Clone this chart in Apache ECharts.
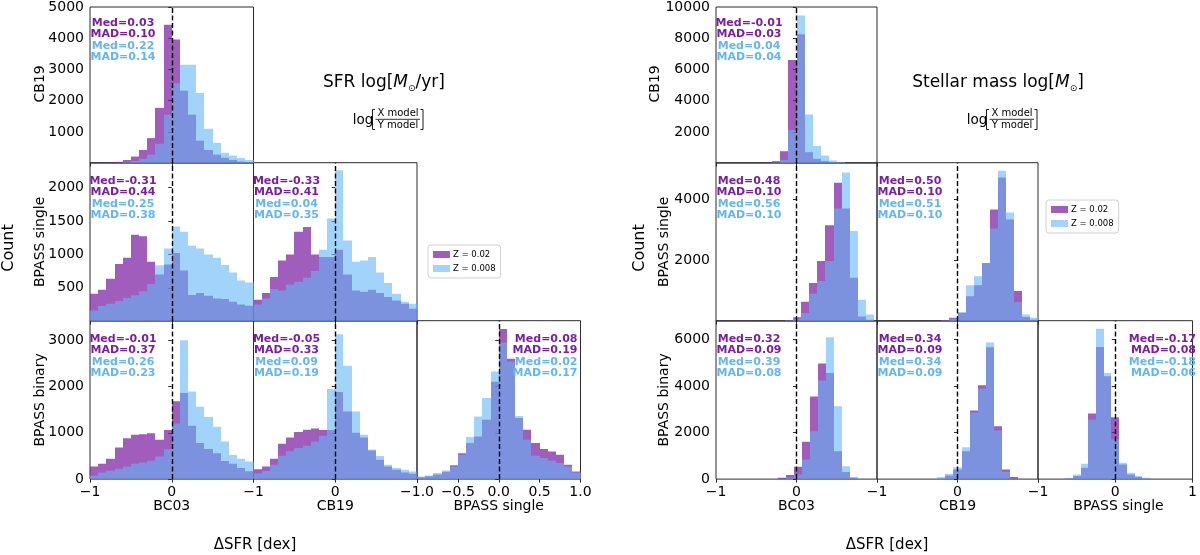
<!DOCTYPE html>
<html>
<head>
<meta charset="utf-8">
<script src="https://cdn.jsdelivr.net/npm/echarts@6/dist/echarts.min.js"></script>
<style>
html, body { margin: 0; padding: 0; background: #fff; }
#myChart { width: 1200px; height: 555px; }
</style>
</head>
<body>
<div id="myChart"></div>
<script>
// histogram bins are 0.1 dex wide, each panel has its own first edge
var binWidth = 0.1;

// ---- SFR log[Msun/yr] (left figure) ----
var sfr_cb19_bc03_start = -1;
var sfr_cb19_bc03_z02  = [5, 10, 20, 40, 100, 210, 420, 800, 1770, 4430, 3960, 2320, 1550, 720, 420, 270, 170, 100, 50, 25];
var sfr_cb19_bc03_z008 = [0, 0, 5, 10, 30, 64, 138, 276, 620, 1550, 2560, 3150, 3150, 2250, 1100, 650, 330, 240, 160, 100];

var sfr_single_bc03_start = -1;
var sfr_single_bc03_z02  = [410, 470, 635, 855, 950, 1295, 1272, 890, 700, 850, 1020, 760, 390, 420, 380, 340, 330, 290, 250, 230];
var sfr_single_bc03_z008 = [160, 226, 261, 301, 346, 386, 446, 557, 838, 1088, 1420, 1340, 1130, 1090, 1000, 950, 840, 730, 610, 580];

var sfr_single_cb19_start = -1;
var sfr_single_cb19_z02  = [320, 420, 660, 910, 1000, 1340, 1410, 1000, 960, 960, 1070, 700, 460, 440, 470, 420, 360, 310, 260, 185];
var sfr_single_cb19_z008 = [250, 340, 480, 460, 550, 590, 650, 750, 1070, 1540, 2260, 1210, 890, 910, 960, 730, 570, 410, 290, 260];

var sfr_binary_bc03_start = -1;
var sfr_binary_bc03_z02  = [273, 330, 438, 682, 883, 955, 970, 990, 847, 1062, 1680, 1860, 1150, 780, 650, 560, 390, 330, 240, 170];
var sfr_binary_bc03_z008 = [80, 144, 180, 222, 273, 330, 359, 395, 489, 646, 1200, 3000, 1890, 1560, 1340, 1130, 810, 520, 440, 380];

var sfr_binary_cb19_start = -1;
var sfr_binary_cb19_z02  = [210, 272, 440, 762, 900, 1015, 1066, 1090, 1060, 1060, 1880, 1460, 1000, 900, 620, 420, 272, 200, 145, 115];
var sfr_binary_cb19_z008 = [120, 175, 310, 505, 600, 670, 720, 814, 936, 1945, 3130, 2450, 1460, 960, 640, 500, 310, 238, 202, 166];

var sfr_binary_single_start = -1;
var sfr_binary_single_z02  = [40, 60, 100, 160, 300, 560, 780, 920, 1280, 2100, 3240, 2600, 1320, 1065, 778, 648, 598, 527, 310, 166];
var sfr_binary_single_z008 = [58, 79, 130, 187, 274, 525, 907, 1353, 1749, 2325, 2950, 2540, 1360, 849, 504, 453, 403, 346, 273, 144];

// ---- Stellar mass log[Msun] (right figure) ----
var mass_cb19_bc03_start = -0.4;
var mass_cb19_bc03_z02  = [40, 127, 760, 6600, 8250, 700, 275, 127, 40, 10];
var mass_cb19_bc03_z008 = [10, 40, 200, 2130, 9450, 3120, 1100, 485, 170, 60];

var mass_single_bc03_start = -0.14;
var mass_single_bc03_z02  = [40, 130, 636, 1250, 1975, 3148, 4540, 3700, 1426, 154, 44];
var mass_single_bc03_z008 = [20, 75, 263, 900, 1316, 1975, 3697, 4880, 2960, 702, 220];

var mass_single_cb19_start = -0.2;
var mass_single_cb19_z02  = [40, 110, 263, 812, 1174, 1909, 3664, 4717, 3335, 987, 131, 44];
var mass_single_cb19_z008 = [20, 80, 300, 1174, 1470, 1909, 3039, 4936, 3565, 625, 219, 110];

var mass_binary_bc03_start = -0.23;
var mass_binary_bc03_z02  = [57, 171, 529, 1600, 3544, 4959, 4559, 1200, 300, 57];
var mass_binary_bc03_z008 = [20, 57, 200, 843, 2058, 4230, 6088, 3130, 557, 86];

var mass_binary_cb19_start = -0.25;
var mass_binary_cb19_z02  = [20, 157, 414, 1200, 2944, 4030, 5659, 2272, 414, 86];
var mass_binary_cb19_z008 = [86, 229, 514, 1372, 2858, 3887, 5859, 2086, 314, 29];

var mass_binary_single_start = -0.65;
var mass_binary_single_z02  = [30, 129, 486, 2815, 5673, 4416, 2658, 629, 200, 86, 29];
var mass_binary_single_z008 = [40, 200, 657, 2558, 6459, 4559, 1700, 700, 272, 129, 57];

// Med / MAD for Z=0.02 then Z=0.008
var stats_sfr = [
	['0.03', '0.10', '0.22', '0.14'],
	['-0.31', '0.44', '0.25', '0.38'],
	['-0.33', '0.41', '0.04', '0.35'],
	['-0.01', '0.37', '0.26', '0.23'],
	['-0.05', '0.33', '0.09', '0.19'],
	['0.08', '0.19', '0.02', '0.17']
];
var stats_mass = [
	['-0.01', '0.03', '0.04', '0.04'],
	['0.48', '0.10', '0.56', '0.10'],
	['0.50', '0.10', '0.51', '0.10'],
	['0.32', '0.09', '0.39', '0.08'],
	['0.34', '0.09', '0.34', '0.09'],
	['-0.17', '0.08', '-0.18', '0.06']
];

var rowNames = ['CB19', 'BPASS single', 'BPASS binary'];
var colNames = ['BC03', 'CB19', 'BPASS single'];
var seriesNames = ['Z = 0.02', 'Z = 0.008'];

// y ticks per row
var sfrYMax = [5000, 2375, 3420];
var sfrYTicks = [[1000, 2000, 3000, 4000, 5000], [500, 1000, 1500, 2000], [0, 1000, 2000, 3000]];
var massYMax = [10000, 5200, 6800];
var massYTicks = [[2000, 4000, 6000, 8000, 10000], [2000, 4000], [0, 2000, 4000, 6000]];
var xTicks = [-1, 0, 1];
var xTicksFine = [-1, -0.5, 0, 0.5, 1];

var FONT = 'DejaVu Sans';
var C02 = 'rgba(123,31,162,0.72)';
var C008 = 'rgba(100,181,246,0.6)';
var T02 = '#7b1fa2';
var T008 = '#64b5f6';

// panel list (row, col) for both figures
var panels = [
	{fig: 0, row: 0, col: 0, start: sfr_cb19_bc03_start, z02: sfr_cb19_bc03_z02, z008: sfr_cb19_bc03_z008, stats: stats_sfr[0]},
	{fig: 0, row: 1, col: 0, start: sfr_single_bc03_start, z02: sfr_single_bc03_z02, z008: sfr_single_bc03_z008, stats: stats_sfr[1]},
	{fig: 0, row: 1, col: 1, start: sfr_single_cb19_start, z02: sfr_single_cb19_z02, z008: sfr_single_cb19_z008, stats: stats_sfr[2]},
	{fig: 0, row: 2, col: 0, start: sfr_binary_bc03_start, z02: sfr_binary_bc03_z02, z008: sfr_binary_bc03_z008, stats: stats_sfr[3]},
	{fig: 0, row: 2, col: 1, start: sfr_binary_cb19_start, z02: sfr_binary_cb19_z02, z008: sfr_binary_cb19_z008, stats: stats_sfr[4]},
	{fig: 0, row: 2, col: 2, start: sfr_binary_single_start, z02: sfr_binary_single_z02, z008: sfr_binary_single_z008, stats: stats_sfr[5]},
	{fig: 1, row: 0, col: 0, start: mass_cb19_bc03_start, z02: mass_cb19_bc03_z02, z008: mass_cb19_bc03_z008, stats: stats_mass[0]},
	{fig: 1, row: 1, col: 0, start: mass_single_bc03_start, z02: mass_single_bc03_z02, z008: mass_single_bc03_z008, stats: stats_mass[1]},
	{fig: 1, row: 1, col: 1, start: mass_single_cb19_start, z02: mass_single_cb19_z02, z008: mass_single_cb19_z008, stats: stats_mass[2]},
	{fig: 1, row: 2, col: 0, start: mass_binary_bc03_start, z02: mass_binary_bc03_z02, z008: mass_binary_bc03_z008, stats: stats_mass[3]},
	{fig: 1, row: 2, col: 1, start: mass_binary_cb19_start, z02: mass_binary_cb19_z02, z008: mass_binary_cb19_z008, stats: stats_mass[4]},
	{fig: 1, row: 2, col: 2, start: mass_binary_single_start, z02: mass_binary_single_z02, z008: mass_binary_single_z008, stats: stats_mass[5]}
];

// layout (px)
var figLeft = [90, 716];
var colW = [163.5, 161];
var rowTop = [4.7, 162.7, 320.7];
var rowH = 158.4;

function toBins(start, counts) {
	return counts.map(function (c, k) {
		return [start + k * binWidth, start + (k + 1) * binWidth, c];
	});
}

function renderBar(params, api) {
	var a = api.coord([api.value(0), api.value(2)]);
	var b = api.coord([api.value(1), 0]);
	var x0 = Math.round(a[0]), x1 = Math.round(b[0]);
	return {
		type: 'rect',
		shape: {x: x0, y: a[1], width: x1 - x0, height: b[1] - a[1]},
		style: {fill: api.visual('color')}
	};
}

function minus(s) { return String(s).replace('-', '\u2212'); }

function txt(x, y, text, extra) {
	var style = {text: text, x: 0, y: 0, fill: '#000', fontSize: 13, fontFamily: FONT, align: 'center', verticalAlign: 'middle'};
	for (var k in extra) { style[k] = extra[k]; }
	return {type: 'text', x: x, y: y, z: 100, silent: true, style: style};
}

var grids = [], xAxes = [], yAxes = [], series = [], graphics = [];

panels.forEach(function (p, i) {
	var left = figLeft[p.fig] + p.col * colW[p.fig];
	var top = rowTop[p.row];
	var w = colW[p.fig];
	var bottomRow = p.row === 2;
	var lastCol = bottomRow && p.col === 2;
	var yMax = p.fig === 0 ? sfrYMax[p.row] : massYMax[p.row];
	var yTicks = p.fig === 0 ? sfrYTicks[p.row] : massYTicks[p.row];
	var xt = (lastCol && p.fig === 0) ? xTicksFine : xTicks;
	var xl = lastCol ? xt : xt.slice(0, xt.length - 1);

	grids.push({left: left, top: top, width: w, height: rowH, show: true,
		borderColor: '#2b2b2b', borderWidth: 1, backgroundColor: 'transparent'});

	xAxes.push({
		gridIndex: i, type: 'value', min: -1, max: 1,
		axisLine: {show: false},
		splitLine: {show: false},
		axisTick: {show: true, length: 3.5, customValues: xt, lineStyle: {color: '#2b2b2b'}},
		axisLabel: {
			show: bottomRow, customValues: xl, margin: 6, fontSize: 14, fontFamily: FONT, color: '#000',
			formatter: function (v) {
				return minus((lastCol && p.fig === 0) ? v.toFixed(1) : String(v));
			}
		}
	});
	yAxes.push({
		gridIndex: i, type: 'value', min: 0, max: yMax,
		axisLine: {show: false},
		splitLine: {show: false},
		axisTick: {show: true, length: 3.5, customValues: yTicks, lineStyle: {color: '#2b2b2b'}},
		axisLabel: {
			show: p.col === 0, customValues: yTicks, margin: 6, fontSize: 14, fontFamily: FONT, color: '#000',
			formatter: function (v) { return String(v); }
		}
	});

	series.push({
		type: 'custom', name: seriesNames[0], xAxisIndex: i, yAxisIndex: i, clip: true, silent: true,
		itemStyle: {color: C02}, renderItem: renderBar, data: toBins(p.start, p.z02)
	});
	series.push({
		type: 'custom', name: seriesNames[1], xAxisIndex: i, yAxisIndex: i, clip: true, silent: true,
		itemStyle: {color: C008}, renderItem: renderBar, data: toBins(p.start, p.z008),
		markLine: {
			silent: true, symbol: ['none', 'none'], label: {show: false}, z: 10,
			lineStyle: {color: '#000', type: [5, 2.5], width: 1.4},
			data: [{xAxis: 0}]
		}
	});

	// Med / MAD annotations
	var lines = ['Med=' + p.stats[0], 'MAD=' + p.stats[1], 'Med=' + p.stats[2], 'MAD=' + p.stats[3]];
	var cols = [T02, T02, T008, T008];
	var tx = lastCol ? left + w - 3 : left + 33;
	lines.forEach(function (t, j) {
		graphics.push(txt(tx, top + 18 + j * 11.6, t, {
			fill: cols[j], fontSize: 11, fontWeight: 'bold', align: lastCol ? 'right' : 'center'
		}));
	});

	// column names under bottom row
	if (bottomRow) {
		graphics.push(txt(left + w / 2, 506, colNames[p.col], {fontSize: 14}));
	}
	// row names on left column
	if (p.col === 0) {
		var rx = p.fig === 0 ? 40 : (p.row === 0 ? 655 : 664);
		graphics.push(txt(rx, top + rowH / 2, rowNames[p.row], {fontSize: 14}));
		graphics[graphics.length - 1].rotation = Math.PI / 2;
	}
});

// figure labels
var countL = txt(9, 248, 'Count', {fontSize: 16});
countL.rotation = Math.PI / 2;
var countR = txt(640, 248, 'Count', {fontSize: 16});
countR.rotation = Math.PI / 2;
graphics.push(countL, countR);
graphics.push(txt(255, 545, '\u0394SFR [dex]', {fontSize: 15}));
graphics.push(txt(887, 545, '\u0394SFR [dex]', {fontSize: 15}));

var richTitle = {
	i: {fontStyle: 'italic', fontSize: 17, fontFamily: FONT},
	s: {fontSize: 9, fontFamily: FONT, padding: [12, 0, 0, 0]}
};
graphics.push(txt(384, 83, 'SFR log[{i|M}{s|\u2299}/yr]', {fontSize: 17, rich: richTitle}));
graphics.push(txt(998, 83, 'Stellar mass log[{i|M}{s|\u2299}]', {fontSize: 17, rich: richTitle}));

// log[ X model / Y model ] labels
[0, 614].forEach(function (dx) {
	graphics.push(txt(363 + dx, 120.5, 'log', {fontSize: 13.5}));
	graphics.push(txt(398 + dx, 113.3, 'X model', {fontSize: 10}));
	graphics.push(txt(398 + dx, 125.6, 'Y model', {fontSize: 10}));
	graphics.push({type: 'line', z: 100, silent: true, shape: {x1: 375.5 + dx, y1: 119.3, x2: 420 + dx, y2: 119.3}, style: {stroke: '#000', lineWidth: 0.8}});
	graphics.push({type: 'polyline', z: 100, silent: true, shape: {points: [[375 + dx, 109.5], [372.5 + dx, 109.5], [372.5 + dx, 129.5], [375 + dx, 129.5]]}, style: {stroke: '#000', lineWidth: 0.9, fill: null}});
	graphics.push({type: 'polyline', z: 100, silent: true, shape: {points: [[420.5 + dx, 109.5], [423 + dx, 109.5], [423 + dx, 129.5], [420.5 + dx, 129.5]]}, style: {stroke: '#000', lineWidth: 0.9, fill: null}});
});

var legendBase = {
	orient: 'vertical', data: seriesNames, icon: 'rect', itemWidth: 17, itemHeight: 7, itemGap: 5,
	padding: [5, 5, 5, 5], backgroundColor: 'rgba(255,255,255,0.8)', borderColor: '#d0d0d0',
	borderWidth: 1, borderRadius: 3, selectedMode: false,
	textStyle: {fontSize: 8.5, fontFamily: FONT, color: '#000', padding: [0, 0, 0, -2]}
};

var myChart = echarts.init(document.getElementById('myChart'));
var option = {
	animation: false,
	backgroundColor: '#fff',
	grid: grids,
	xAxis: xAxes,
	yAxis: yAxes,
	legend: [
		Object.assign({left: 428, top: 245}, legendBase),
		Object.assign({left: 1046, top: 200}, legendBase)
	],
	graphic: graphics,
	series: series
};
myChart.setOption(option);
</script>
</body>
</html>
